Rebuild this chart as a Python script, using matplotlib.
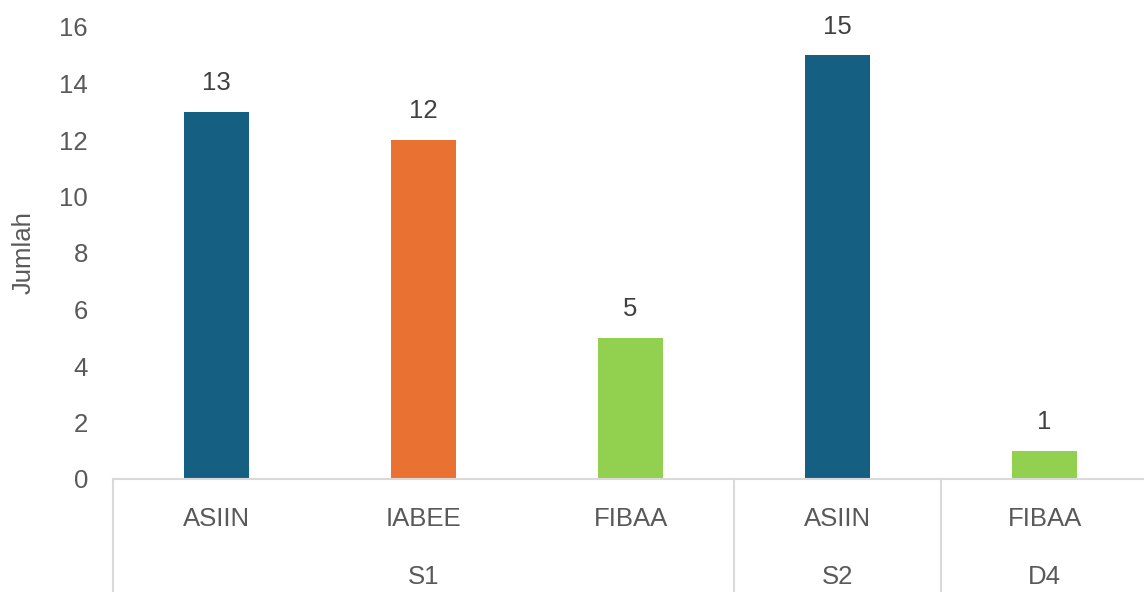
import matplotlib
matplotlib.use('Agg')
import matplotlib.pyplot as plt

# data
labels = ['ASIIN', 'IABEE', 'FIBAA', 'ASIIN', 'FIBAA']
values = [13, 12, 5, 15, 1]
groups = ['S1', 'S2', 'D4']
group_sizes = [3, 1, 1]

colors = {'ASIIN': '#156082', 'IABEE': '#E97132', 'FIBAA': '#92D050'}

plt.rcParams['font.family'] = ['Liberation Sans', 'DejaVu Sans']

W, H = 1144, 592
fig = plt.figure(figsize=(W / 100, H / 100), dpi=100)
# axes box in pixels: left 113, right 1148, y=0 at 479, y=16 at 27
ax = fig.add_axes([113 / W, (H - 479) / H, (1148 - 113) / W, (479 - 27) / H])

x = [i + 0.5 for i in range(len(values))]
ax.bar(x, values, width=0.31, color=[colors[l] for l in labels], zorder=2)

for xi, v in zip(x, values):
    ax.annotate(str(v), (xi, v), xytext=(0, 12), textcoords='offset points',
                ha='center', va='bottom', fontsize=18.5, color='#404040')

ax.set_xlim(0, len(values))
ax.set_ylim(0, 16)
ax.set_yticks(range(0, 17, 2))
ax.tick_params(axis='y', length=0, pad=18, labelsize=18.5, labelcolor='#595959')
ax.set_xticks([])
ax.set_ylabel('Jumlah', fontsize=18.5, color='#595959')
ax.yaxis.set_label_coords((36 - 113) / (1148 - 113), 0.5)

for s in ['top', 'right', 'left']:
    ax.spines[s].set_visible(False)
ax.spines['bottom'].set_color('#d9d9d9')
ax.spines['bottom'].set_linewidth(1.5)

# category labels + group labels below the axis
trans = ax.get_xaxis_transform()
axh = 479 - 27
for xi, l in zip(x, labels):
    ax.text(xi, -(519 - 479) / axh, l, transform=trans, ha='center', va='center',
            fontsize=18.5, color='#595959')

start = 0
bounds = [0]
for g, n in zip(groups, group_sizes):
    ax.text(start + n / 2, -(577 - 479) / axh, g, transform=trans, ha='center',
            va='center', fontsize=18.5, color='#595959')
    start += n
    bounds.append(start)

for b in bounds:
    ax.plot([b, b], [0, -(H - 479) / axh], transform=trans, color='#d9d9d9',
            lw=1.5, clip_on=False)

fig.savefig('out.png', dpi=100)
